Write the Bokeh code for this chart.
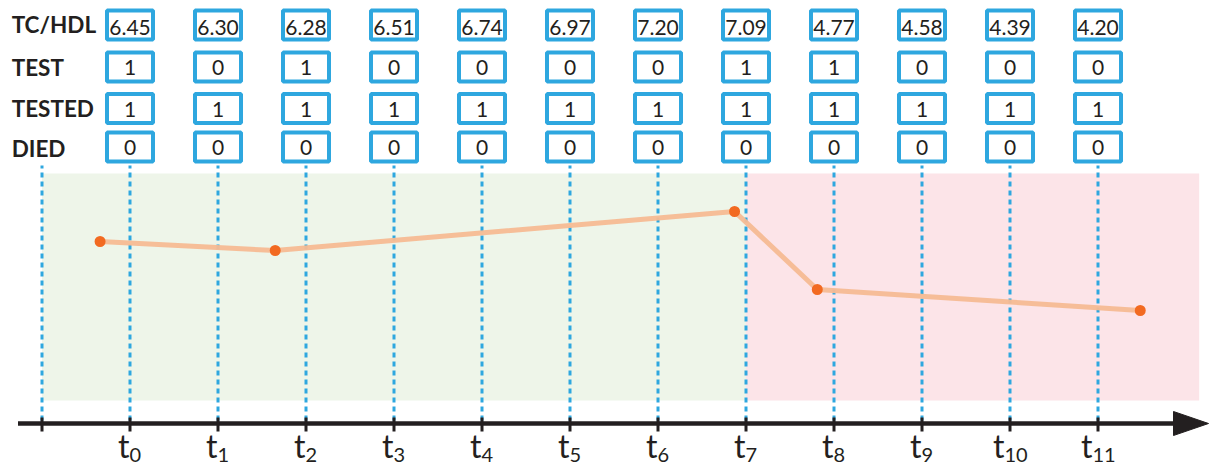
from bokeh.plotting import figure
from bokeh.models import Range1d, ColumnDataSource
from bokeh.core.properties import value
from bokeh.embed import file_html
from bokeh.resources import INLINE

# ---------------- data ----------------
row_labels = ["TC/HDL", "TEST", "TESTED", "DIED"]
time_index = [0, 1, 2, 3, 4, 5, 6, 7, 8, 9, 10, 11]
tc_hdl = ["6.45", "6.30", "6.28", "6.51", "6.74", "6.97", "7.20", "7.09", "4.77", "4.58", "4.39", "4.20"]
test = [1, 0, 1, 0, 0, 0, 0, 1, 1, 0, 0, 0]
tested = [1, 1, 1, 1, 1, 1, 1, 1, 1, 1, 1, 1]
died = [0, 0, 0, 0, 0, 0, 0, 0, 0, 0, 0, 0]

axis_ticks = [-1, 0, 1, 2, 3, 4, 5, 6, 7, 8, 9, 10, 11]
tick_labels = ["", "0", "1", "2", "3", "4", "5", "6", "7", "8", "9", "10", "11"]

risk_times = [-0.34, 1.65, 6.87, 7.81, 11.48]
risk_values = [18.2, 17.3, 21.2, 13.4, 11.3]

healthy_span = [-1.0, 7.0]
event_span = [7.0, 12.15]

# ---------------- styles ----------------
INK = "#231f20"
BLUE = "#2ea7df"
GREEN = "#eef5e9"
PINK = "#fce4e8"
PEACH = "#f6ba93"
ORANGE = "#f26a21"
FONT = "Lato"

p = figure(width=1209, height=465, output_backend="svg", toolbar_location=None,
           x_range=Range1d(-1.4716, 12.267), y_range=Range1d(-4.2, 42.3),
           x_axis_type=None, y_axis_type=None, min_border=0)
p.outline_line_color = None
p.background_fill_color = "white"
p.border_fill_color = "white"

# shaded periods
p.quad(left=[healthy_span[0]], right=[healthy_span[1]], bottom=[2.3], top=[25.0],
       fill_color=GREEN, line_color=None)
p.quad(left=[event_span[0]], right=[event_span[1]], bottom=[2.3], top=[25.0],
       fill_color=PINK, line_color=None)

# dashed verticals
p.segment(x0=axis_ticks, y0=[0.3] * len(axis_ticks), x1=axis_ticks, y1=[25.8] * len(axis_ticks),
          line_color=BLUE, line_width=3, line_dash="5 4")

# risk trajectory
p.line(risk_times, risk_values, line_color=PEACH, line_width=5, line_alpha=0.95)
p.scatter(risk_times, risk_values, size=11, fill_color=ORANGE, line_color=None)

# time axis
p.segment(x0=[-1.2727], y0=[0], x1=[11.9], y1=[0], line_color=INK, line_width=4.5)
p.patch([11.858, 12.256, 11.858], [1.2, 0.0, -1.2], fill_color=INK, line_color=INK)
p.segment(x0=axis_ticks, y0=[0.6] * len(axis_ticks), x1=axis_ticks, y1=[-0.8] * len(axis_ticks),
          line_color=INK, line_width=3)

# tick labels t_k
lab_src = ColumnDataSource(dict(
    x=axis_ticks[1:],
    t=["t"] * 12,
    sub=tick_labels[1:],
    tofs=[(9 - 10 * len(s)) / 2.0 for s in tick_labels[1:]],
))
p.text(x="x", y=-2.2, text="t", source=lab_src, x_offset="tofs",
       text_align="right", text_baseline="middle",
       text_font=value(FONT), text_font_size="32px", text_color=INK)
p.text(x="x", y=-3.16, text="sub", source=lab_src, x_offset="tofs",
       text_align="left", text_baseline="middle",
       text_font=value(FONT), text_font_size="20px", text_color=INK)

# table
row_centers = [39.85, 35.65, 31.5, 27.65]
value_centers = [39.6, 35.6, 31.45, 27.65]
label_centers = [39.9, 35.65, 31.5, 27.5]
rows = [tc_hdl, [str(v) for v in test], [str(v) for v in tested], [str(v) for v in died]]

p.text(x=[-1.345] * 4, y=label_centers, text=row_labels,
       text_align="left", text_baseline="middle",
       text_font=value(FONT), text_font_style="bold", text_font_size="22.5px", text_color=INK)

for rc, vc, vals in zip(row_centers, value_centers, rows):
    p.rect(x=time_index, y=[rc] * 12, width=46, height=29,
           width_units="screen", height_units="screen",
           fill_color="white", line_color=BLUE, line_width=4)
    p.text(x=time_index, y=[vc] * 12, text=vals,
           text_align="center", text_baseline="middle",
           text_font=value(FONT), text_font_size="21px", text_color=INK)

open("out.html", "w").write(file_html(p, INLINE))
